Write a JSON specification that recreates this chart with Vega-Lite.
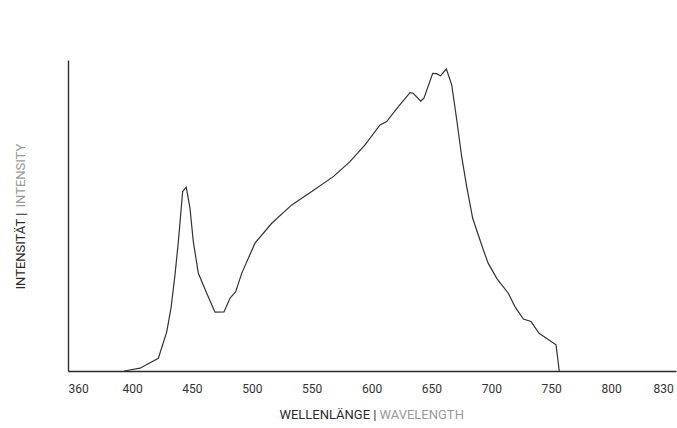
{
  "$schema": "https://vega.github.io/schema/vega-lite/v6.json",
  "autosize": {"type": "none"},
  "padding": {"left": 68, "top": 60, "right": 1, "bottom": 57},
  "width": 608,
  "height": 311,
  "config": {
    "view": {"stroke": null},
    "font": "Roboto",
    "axis": {"grid": false, "ticks": false, "domainColor": "#2b2b2b", "domainWidth": 1.4}
  },
  "data": {
    "values": [
      {"wavelength": 394.2, "intensity": 0},
      {"wavelength": 406.7, "intensity": 0.9},
      {"wavelength": 422.0, "intensity": 4.1},
      {"wavelength": 429.0, "intensity": 12.6},
      {"wavelength": 432.6, "intensity": 20.3},
      {"wavelength": 435.9, "intensity": 30.9},
      {"wavelength": 438.7, "intensity": 41.6},
      {"wavelength": 442.3, "intensity": 57.7},
      {"wavelength": 445.3, "intensity": 59.1},
      {"wavelength": 448.4, "intensity": 52.4},
      {"wavelength": 451.2, "intensity": 41.6},
      {"wavelength": 455.4, "intensity": 31.4},
      {"wavelength": 462.4, "intensity": 25.0},
      {"wavelength": 469.3, "intensity": 18.9},
      {"wavelength": 476.8, "intensity": 19.0},
      {"wavelength": 481.8, "intensity": 23.4},
      {"wavelength": 486.6, "intensity": 25.5},
      {"wavelength": 491.6, "intensity": 31.4},
      {"wavelength": 502.7, "intensity": 41.1},
      {"wavelength": 516.7, "intensity": 47.5},
      {"wavelength": 533.4, "intensity": 53.4},
      {"wavelength": 550.1, "intensity": 57.7},
      {"wavelength": 568.1, "intensity": 62.5},
      {"wavelength": 582.0, "intensity": 67.3},
      {"wavelength": 594.6, "intensity": 72.7},
      {"wavelength": 607.1, "intensity": 79.1},
      {"wavelength": 612.7, "intensity": 80.2},
      {"wavelength": 622.4, "intensity": 85.0},
      {"wavelength": 632.2, "intensity": 89.5},
      {"wavelength": 634.9, "intensity": 89.3},
      {"wavelength": 641.1, "intensity": 86.8},
      {"wavelength": 643.8, "intensity": 87.7},
      {"wavelength": 651.1, "intensity": 95.7},
      {"wavelength": 654.1, "intensity": 95.6},
      {"wavelength": 657.6, "intensity": 94.9},
      {"wavelength": 662.5, "intensity": 97.1},
      {"wavelength": 667.0, "intensity": 92.0},
      {"wavelength": 671.2, "intensity": 80.7},
      {"wavelength": 675.3, "intensity": 68.9},
      {"wavelength": 679.5, "intensity": 59.3},
      {"wavelength": 684.5, "intensity": 49.1},
      {"wavelength": 693.4, "intensity": 38.9},
      {"wavelength": 697.5, "intensity": 34.6},
      {"wavelength": 704.6, "intensity": 29.8},
      {"wavelength": 714.2, "intensity": 25.0},
      {"wavelength": 719.8, "intensity": 20.7},
      {"wavelength": 726.8, "intensity": 16.7},
      {"wavelength": 733.2, "intensity": 15.9},
      {"wavelength": 739.9, "intensity": 12.1},
      {"wavelength": 754.1, "intensity": 8.4},
      {"wavelength": 756.8, "intensity": 0}
    ]
  },
  "layer": [
    {
      "mark": {"type": "line", "color": "#333333", "strokeWidth": 1.2},
      "encoding": {
        "x": {
          "field": "wavelength", "type": "quantitative",
          "scale": {"domain": [350, 360, 400, 800, 830, 850], "range": [0, 10, 64, 543, 595, 608], "nice": false, "zero": false},
          "axis": {
            "orient": "bottom",
            "values": [360, 400, 450, 500, 550, 600, 650, 700, 750, 800, 830],
            "labelFont": "Roboto", "labelFontSize": 12, "labelColor": "#333333", "labelPadding": 12,
            "title": "WELLENLÄNGE |", "titleFont": "Roboto", "titleFontSize": 13, "titleFontWeight": "normal",
            "titleColor": "#2b2b2b", "titleAlign": "right", "titleX": 308, "titleY": 47, "titleBaseline": "alphabetic"
          }
        },
        "y": {
          "field": "intensity", "type": "quantitative",
          "scale": {"domain": [0, 100], "nice": false},
          "axis": {
            "orient": "left", "labels": false,
            "title": "INTENSITÄT |", "titleFont": "Roboto", "titleFontSize": 13, "titleFontWeight": "normal",
            "titleColor": "#2b2b2b", "titleAlign": "left", "titleAngle": 270, "titleX": -43.5, "titleY": 229, "titleBaseline": "alphabetic"
          }
        }
      }
    },
    {
      "mark": {"type": "line", "opacity": 0},
      "encoding": {
        "x": {
          "field": "wavelength", "type": "quantitative",
          "axis": {
            "orient": "bottom", "domain": false, "labels": false,
            "title": "WAVELENGTH", "titleFont": "Roboto", "titleFontSize": 13, "titleFontWeight": "normal",
            "titleColor": "#9a9a9a", "titleAlign": "left", "titleX": 311, "titleY": 47, "titleBaseline": "alphabetic"
          }
        },
        "y": {
          "field": "intensity", "type": "quantitative",
          "axis": {
            "orient": "left", "domain": false, "labels": false,
            "title": "INTENSITY", "titleFont": "Roboto", "titleFontSize": 13, "titleFontWeight": "normal",
            "titleColor": "#9a9a9a", "titleAlign": "left", "titleAngle": 270, "titleX": -43.5, "titleY": 147, "titleBaseline": "alphabetic"
          }
        }
      }
    }
  ],
  "resolve": {"axis": {"x": "independent", "y": "independent"}}
}
